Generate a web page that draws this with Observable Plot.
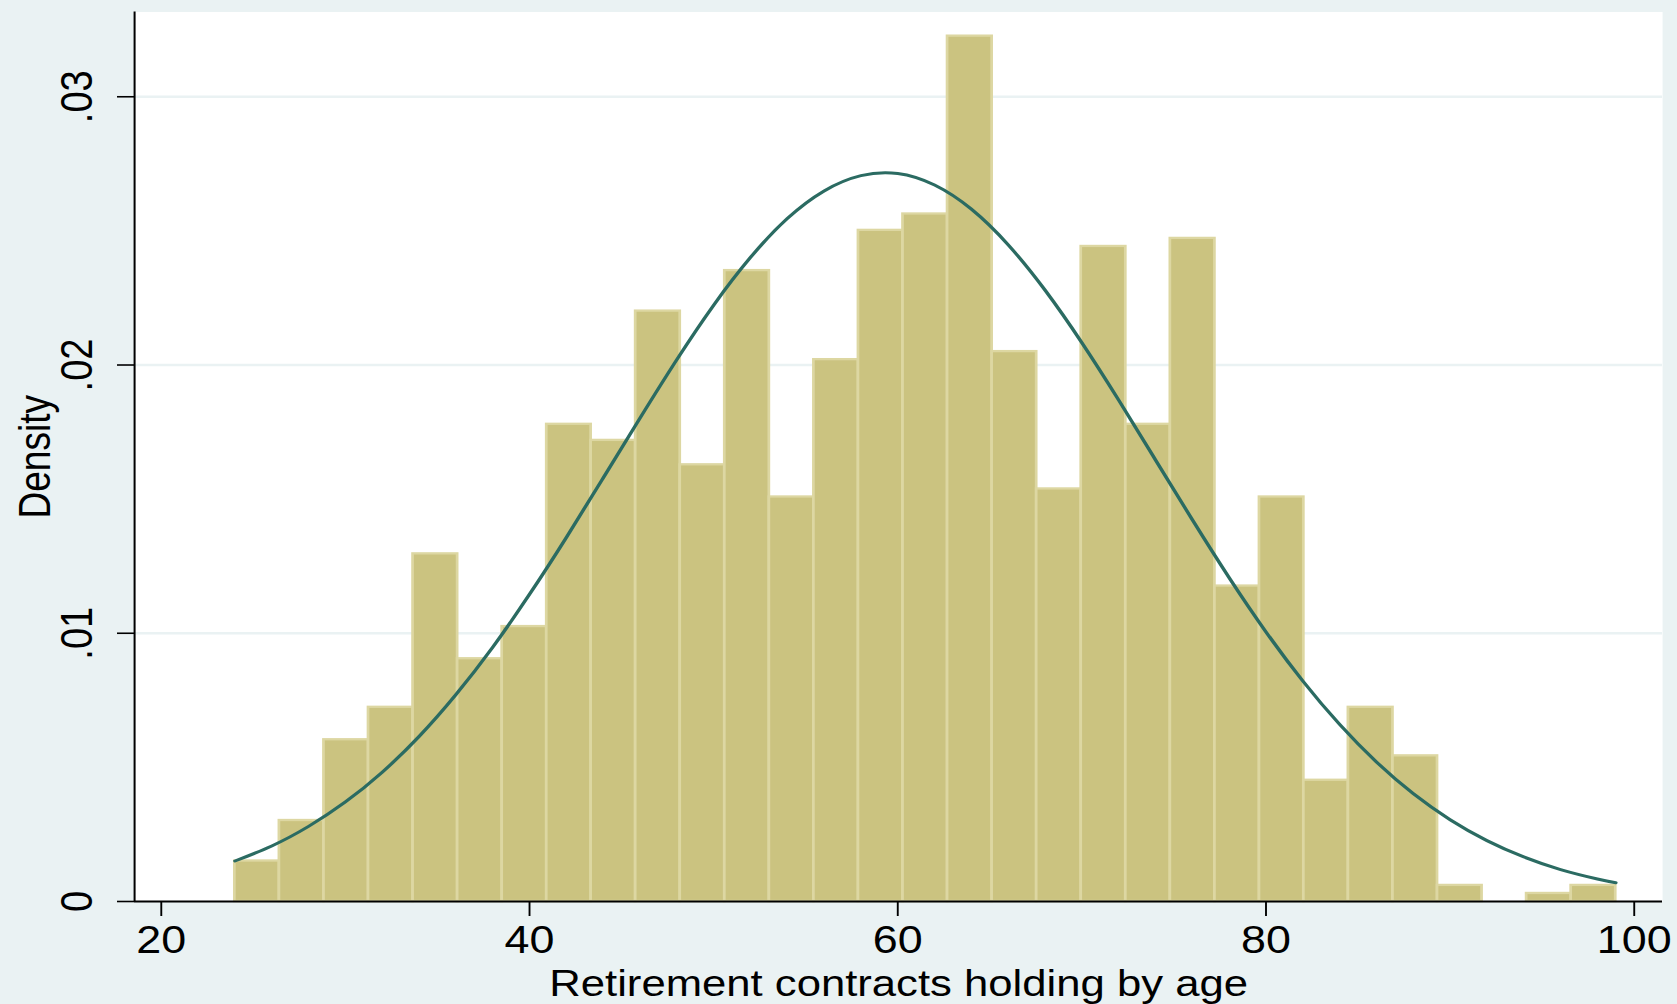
<!DOCTYPE html>
<html>
<head>
<meta charset="utf-8">
<script src="https://cdn.jsdelivr.net/npm/d3@7"></script>
<script src="https://cdn.jsdelivr.net/npm/@observablehq/plot@0.6"></script>
<style>
  html, body { margin: 0; padding: 0; background: #EAF2F3; }
  #chart { width: 1677px; height: 1004px; overflow: hidden; }
</style>
</head>
<body>
<div id="chart"></div>
<script>
// Histogram of age (31 equal bins from 24 to 99), density scale
const binEdges = [
  24.00, 26.42, 28.84, 31.26, 33.68, 36.10, 38.52, 40.94, 43.35, 45.77,
  48.19, 50.61, 53.03, 55.45, 57.87, 60.29, 62.71, 65.13, 67.55, 69.97,
  72.39, 74.81, 77.23, 79.65, 82.06, 84.48, 86.90, 89.32, 91.74, 94.16,
  96.58, 99.00
];
const densities = [
  0.00151, 0.00302, 0.00603, 0.00724, 0.01296, 0.00905, 0.01025, 0.01779,
  0.01719, 0.02201, 0.01628, 0.02352, 0.01508, 0.02020, 0.02502, 0.02563,
  0.03226, 0.02050, 0.01538, 0.02442, 0.01779, 0.02472, 0.01176, 0.01508,
  0.00452, 0.00724, 0.00543, 0.00060, 0.00000, 0.00030, 0.00060
];

// Overlaid normal density curve
const curveAge = [
  24, 26, 28, 30, 32, 34, 36, 38, 40, 42, 44, 46, 48, 50, 52, 54, 56, 58, 60, 62,
  64, 66, 68, 70, 72, 74, 76, 78, 80, 82, 84, 86, 88, 90, 92, 94, 96, 98, 99
];
const curveDensity = [
  0.00151, 0.00207, 0.00280, 0.00371, 0.00482, 0.00615, 0.00771, 0.00948,
  0.01145, 0.01357, 0.01579, 0.01802, 0.02020, 0.02223, 0.02401, 0.02546,
  0.02649, 0.02706, 0.02714, 0.02671, 0.02581, 0.02448, 0.02279, 0.02083,
  0.01869, 0.01646, 0.01423, 0.01207, 0.01005, 0.00822, 0.00660, 0.00520,
  0.00402, 0.00305, 0.00227, 0.00166, 0.00119, 0.00084, 0.00070
];

const xTicks = [20, 40, 60, 80, 100];
const yTicks = [0, 0.01, 0.02, 0.03];
const xTitle = "Retirement contracts holding by age";
const yTitle = "Density";

const bins = densities
  .map((d, i) => ({x1: binEdges[i], x2: binEdges[i + 1], density: d}))
  .filter(b => b.density > 0);
const curve = curveAge.map((a, i) => ({age: a, density: curveDensity[i]}));

// The graph is laid out in a narrower coordinate system and stretched
// horizontally to the final page width.
const W = 1677, H = 1004, SX = 1.18;
const w = W / SX;
const xDomain = [18.55, 101.54];
const yDomain = [0, 0.03316];
const fmtY = d => d === 0 ? "0" : d.toFixed(2).replace(/^0/, "");
const font = "'Liberation Sans', Helvetica, Arial, sans-serif";

const chart = Plot.plot({
  width: w,
  height: H,
  marginLeft: 134 / SX,
  marginRight: 15 / SX,
  marginTop: 11.5,
  marginBottom: 103,
  x: {domain: xDomain},
  y: {domain: yDomain},
  style: {fontFamily: font, fontSize: "38px", color: "black", background: "#EAF2F3"},
  marks: [
    Plot.frame({fill: "white", stroke: null}),
    Plot.ruleY(yTicks.filter(d => d > 0), {stroke: "#EAF2F3", strokeWidth: 2.5, strokeOpacity: 1}),
    Plot.rectY(bins, {
      x1: "x1", x2: "x2", y: "density",
      fill: "#CBC380", stroke: "#DDD7A2", strokeWidth: 2.3
    }),
    Plot.line(curve, {x: "age", y: "density", stroke: "#2B6B62", strokeWidth: 3, curve: "natural"}),
    Plot.ruleX([xDomain[0]], {stroke: "black", strokeWidth: 1.7}),
    Plot.ruleY([0], {stroke: "black", strokeWidth: 1.8}),
    Plot.axisX(xTicks, {tickSize: 15, tickPadding: 10, strokeWidth: 1.6, fontSize: 38, label: null, fill: "black"}),
    Plot.axisY(yTicks, {
      tickSize: 14.4, tickPadding: 22, tickRotate: -90, tickFormat: fmtY,
      strokeWidth: 1.6, fontSize: 38, label: null, fill: "black"
    }),
    Plot.text([yTitle], {
      text: d => d, frameAnchor: "left", rotate: -90, dx: -71.6,
      textAnchor: "middle", lineAnchor: "bottom", fontSize: 37, fill: "black"
    }),
    Plot.text([xTitle], {
      text: d => d, frameAnchor: "bottom", dy: 94,
      textAnchor: "middle", lineAnchor: "bottom", fontSize: 37, fill: "black"
    })
  ]
});

chart.setAttribute("width", W);
chart.setAttribute("height", H);
chart.setAttribute("viewBox", `0 0 ${w} ${H}`);
chart.setAttribute("preserveAspectRatio", "none");
chart.style.width = W + "px";
chart.style.height = H + "px";
chart.style.maxWidth = "none";
chart.style.display = "block";
document.getElementById("chart").appendChild(chart);
</script>
</body>
</html>
